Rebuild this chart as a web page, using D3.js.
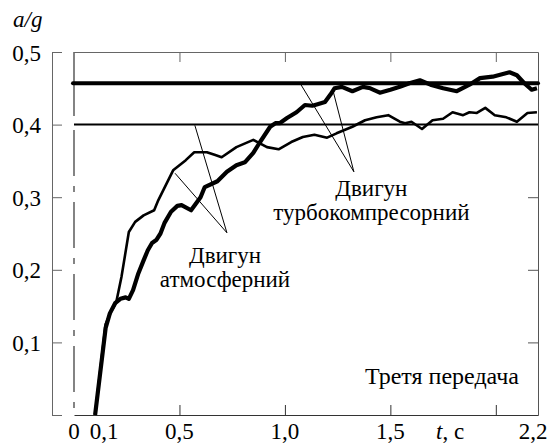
<!DOCTYPE html>
<html>
<head>
<meta charset="utf-8">
<script src="https://cdn.jsdelivr.net/npm/d3@7"></script>
<style>
    body { margin: 0; background: #fff; }
</style>
</head>
<body>
<svg id="chart" width="550" height="445"></svg>
<script>
// time, s
let tTurbo = [0.10, 0.15, 0.17, 0.195, 0.22, 0.245, 0.26, 0.28, 0.305, 0.33, 0.35, 0.37, 0.39, 0.41, 0.43, 0.46, 0.49, 0.51, 0.555, 0.60,
    0.62, 0.68, 0.725, 0.77, 0.81, 0.85, 0.88, 0.93, 0.955, 0.975, 1.01, 1.055, 1.095, 1.13, 1.155, 1.19, 1.215, 1.235, 1.27, 1.32,
    1.37, 1.405, 1.45, 1.50, 1.545, 1.59, 1.64, 1.69, 1.75, 1.815, 1.875, 1.925, 1.985, 2.065, 2.10, 2.135, 2.17, 2.195];
// a/g, turbocharged engine
let aTurbo = [0, 0.12, 0.14, 0.154, 0.160, 0.162, 0.160, 0.172, 0.195, 0.213, 0.227, 0.237, 0.241, 0.250, 0.265, 0.280, 0.288, 0.289, 0.282, 0.300,
    0.314, 0.322, 0.335, 0.344, 0.348, 0.361, 0.375, 0.397, 0.402, 0.402, 0.409, 0.417, 0.427, 0.426, 0.428, 0.431, 0.441, 0.450, 0.452, 0.446,
    0.452, 0.450, 0.444, 0.448, 0.452, 0.457, 0.461, 0.455, 0.450, 0.446, 0.455, 0.464, 0.466, 0.472, 0.468, 0.457, 0.448, 0.450];

let tAtmo = [0.10, 0.15, 0.175, 0.20, 0.225, 0.26, 0.29, 0.33, 0.38, 0.40, 0.47, 0.53, 0.57, 0.63, 0.67, 0.70, 0.77, 0.85, 0.915, 0.97,
    1.03, 1.085, 1.14, 1.20, 1.245, 1.32, 1.38, 1.435, 1.49, 1.545, 1.57, 1.60, 1.65, 1.70, 1.75, 1.795, 1.845, 1.875, 1.91, 1.95,
    1.995, 2.05, 2.10, 2.15, 2.195];
// a/g, naturally aspirated engine
let aAtmo = [0, 0.125, 0.142, 0.155, 0.19, 0.252, 0.266, 0.275, 0.282, 0.296, 0.337, 0.351, 0.362, 0.362, 0.358, 0.355, 0.369, 0.379, 0.369, 0.366,
    0.376, 0.383, 0.386, 0.382, 0.388, 0.397, 0.406, 0.410, 0.413, 0.404, 0.402, 0.404, 0.394, 0.406, 0.408, 0.417, 0.413, 0.417, 0.416, 0.423,
    0.413, 0.410, 0.404, 0.416, 0.417];

// steady-state levels
let limitTurbo = 0.457;
let limitAtmo = 0.40;

let yTicks = [0, 0.1, 0.2, 0.3, 0.4, 0.5];
let xTicks = [0.5, 1.0, 1.5, 2.0];
let xLabels = [0, 0.1, 0.5, 1.0, 1.5, 2.2];

// callouts: text lines and the points the leader lines go to
let atmoText = ["Двигун", "атмосферний"];
let atmoApex = [0.725, 0.251];
let atmoTargets = [[0.479, 0.333], [0.573, 0.399]];
let turboText = ["Двигун", "турбокомпресорний"];
let turboApex = [1.327, 0.335];
let turboTargets = [[1.227, 0.448], [1.076, 0.455]];

let svg = d3.select("#chart");
let x = d3.scaleLinear().domain([0, 2.2]).range([74, 538]);
let y = d3.scaleLinear().domain([0, 0.5]).range([415, 52]);

let locale = d3.formatLocale({decimal: ",", thousands: " ", grouping: [3], currency: ["", ""]});
let fmt = locale.format(".1f");

// all text in a Times-like face
function serif(sel, size){
    return sel.style("font-family", "'Liberation Serif'").style("font-size", (size || 23) + "px").attr("fill", "#000");
}

// left axis, detached from the plot
let yAxis = svg.append("g")
    .attr("transform", "translate(52,0)")
    .call(d3.axisLeft(y).tickValues(yTicks).tickSize(-10).tickSizeOuter(0).tickPadding(11)
        .tickFormat(function(d){ return d === 0 ? "" : fmt(d); }));
yAxis.select(".domain").attr("stroke", "#666");
yAxis.selectAll(".tick line").attr("stroke", "#666");
serif(yAxis.selectAll(".tick text")).attr("dy", "0.35em");

// frame: top, right, bottom
let topAxis = svg.append("g")
    .attr("transform", "translate(0," + y(0.5) + ")")
    .call(d3.axisTop(x).tickValues(xTicks).tickSize(-10).tickSizeOuter(0).tickFormat(""));
topAxis.selectAll("path, line").attr("stroke", "#666");

let rightAxis = svg.append("g")
    .attr("transform", "translate(" + x(2.2) + ",0)")
    .call(d3.axisRight(y).tickValues([0.1, 0.2, 0.3]).tickSize(-10).tickSizeOuter(0).tickFormat(""));
rightAxis.selectAll("path, line").attr("stroke", "#555");

let bottomAxis = svg.append("g")
    .attr("transform", "translate(0," + y(0) + ")")
    .call(d3.axisBottom(x).tickValues(xTicks).tickSize(-10).tickSizeOuter(0).tickFormat(""));
bottomAxis.selectAll("path, line").attr("stroke", "#333");

// dash-dot line at t = 0
svg.append("line")
    .attr("x1", x(0)).attr("x2", x(0))
    .attr("y1", y(0.5)).attr("y2", y(0))
    .attr("stroke", "#333")
    .attr("stroke-width", 1.2)
    .attr("stroke-dasharray", "64,14,46,10,6,10,46,10,6,10,46,10,6,10,46,10,6,10,46,10,6,10,46,10,6,10,200");

serif(svg.selectAll(".x-label")
    .data(xLabels)
    .enter()
    .append("text")
    .attr("class", "x-label")
    .attr("x", function(d){ return x(d); })
    .attr("dx", function(d){ return d === 0.1 ? 9 : (d === 2.2 ? -5 : 0); })
    .attr("y", 439)
    .attr("text-anchor", "middle")
    .text(function(d){ return d === 0 ? "0" : fmt(d); }));

// axis titles
serif(svg.append("text")
    .attr("x", 13).attr("y", 27)
    .style("font-style", "italic")
    .text("a/g"));

let tLabel = serif(svg.append("text")
    .attr("x", 436).attr("y", 439));
tLabel.append("tspan").style("font-style", "italic").text("t");
tLabel.append("tspan").text(", c");

// steady-state levels
svg.append("line")
    .attr("x1", x(0)).attr("x2", x(2.2))
    .attr("y1", y(limitAtmo)).attr("y2", y(limitAtmo))
    .attr("stroke", "#000").attr("stroke-width", 2);
svg.append("line")
    .attr("x1", x(0) - 1).attr("x2", x(2.2))
    .attr("y1", y(limitTurbo)).attr("y2", y(limitTurbo))
    .attr("stroke", "#000").attr("stroke-width", 4)
    .attr("stroke-linecap", "round");

let line = d3.line()
    .x(function(d){ return x(d[0]); })
    .y(function(d){ return y(d[1]); });

svg.append("path")
    .datum(d3.zip(tAtmo, aAtmo))
    .attr("d", line)
    .attr("fill", "none")
    .attr("stroke", "#000")
    .attr("stroke-width", 2.6)
    .attr("stroke-linejoin", "round");

svg.append("path")
    .datum(d3.zip(tTurbo, aTurbo))
    .attr("d", line)
    .attr("fill", "none")
    .attr("stroke", "#000")
    .attr("stroke-width", 4.2)
    .attr("stroke-linejoin", "round");

// leader lines
function leaders(apex, targets){
    svg.append("g")
        .selectAll("line")
        .data(targets)
        .enter()
        .append("line")
        .attr("x1", x(apex[0])).attr("y1", y(apex[1]))
        .attr("x2", function(d){ return x(d[0]); })
        .attr("y2", function(d){ return y(d[1]); })
        .attr("stroke", "#000")
        .attr("stroke-width", 1);
}
leaders(atmoApex, atmoTargets);
leaders(turboApex, turboTargets);

function callout(lines, tx, v0){
    serif(svg.append("g")
        .selectAll("text")
        .data(lines)
        .enter()
        .append("text")
        .attr("x", x(tx))
        .attr("y", function(d, i){ return y(v0) - 1 + i * 24; })
        .attr("text-anchor", "middle")
        .text(function(d){ return d; }), 23);
}
callout(atmoText, 0.716, 0.208);
callout(turboText, 1.41, 0.300);

serif(svg.append("text")
    .attr("x", x(2.11)).attr("y", y(0.043))
    .attr("text-anchor", "end")
    .text("Третя передача"), 24);
</script>
</body>
</html>
